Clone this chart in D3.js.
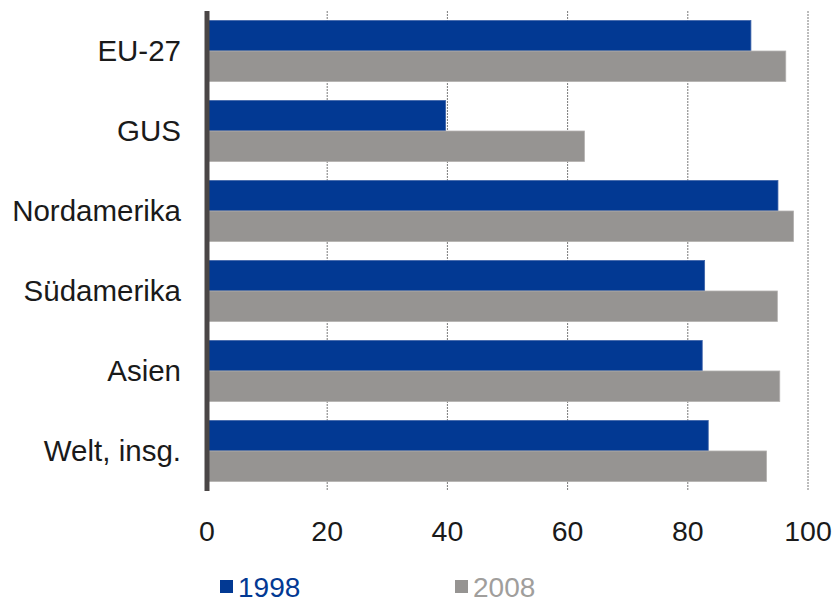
<!DOCTYPE html>
<html>
<head>
<meta charset="utf-8">
<script src="https://d3js.org/d3.v7.min.js"></script>
<style>
  body { margin: 0; background: #fff; }
  svg { display: block; font-family: "Liberation Sans", Arial, sans-serif; }
</style>
</head>
<body>
<div id="chart"></div>
<script>
// Regions and values (%)
const categories = ['EU-27', 'GUS', 'Nordamerika', 'Südamerika', 'Asien', 'Welt, insg.'];
const values1998 = [90.5, 39.7, 95.0, 82.8, 82.4, 83.4];
const values2008 = [96.3, 62.8, 97.6, 94.9, 95.3, 93.1];
const seriesNames = ['1998', '2008'];
const ticks = [0, 20, 40, 60, 80, 100];

const width = 835, height = 602;
const margin = { top: 11, right: 27, bottom: 112, left: 207 };
const colors = { '1998': '#023993', '2008': '#969492' };
const strokes = { '1998': '#3d63a8', '2008': '#b3b1af' };

const svg = d3.select('#chart').append('svg')
  .attr('width', width)
  .attr('height', height);

const x = d3.scaleLinear()
  .domain([0, 100])
  .range([margin.left, width - margin.right]);

const y = d3.scaleBand()
  .domain(categories)
  .range([margin.top, height - margin.bottom + 1])
  .paddingInner(0.2375)
  .paddingOuter(0.119);

const ySub = d3.scaleBand()
  .domain(seriesNames)
  .range([0, y.bandwidth()]);

const rows = categories.map((c, i) => ({ cat: c, '1998': values1998[i], '2008': values2008[i] }));

// Dotted gridlines
svg.append('g')
  .selectAll('line')
  .data(ticks.filter(t => t > 0))
  .join('line')
  .attr('x1', d => x(d)).attr('x2', d => x(d))
  .attr('y1', margin.top).attr('y2', height - margin.bottom + 1)
  .attr('stroke', '#7a7a7a')
  .attr('stroke-width', 1)
  .attr('stroke-dasharray', '2,1');

// Bars
const groups = svg.append('g')
  .selectAll('g')
  .data(rows)
  .join('g')
  .attr('transform', d => `translate(0,${y(d.cat)})`);

groups.selectAll('rect')
  .data(d => seriesNames.map(s => ({ key: s, value: d[s] })))
  .join('rect')
  .attr('x', x(0))
  .attr('y', d => ySub(d.key))
  .attr('width', d => x(d.value) - x(0))
  .attr('height', ySub.bandwidth())
  .attr('fill', d => colors[d.key])
  .attr('stroke', d => strokes[d.key])
  .attr('stroke-width', 0.8);

// Vertical axis line
svg.append('line')
  .attr('x1', x(0)).attr('x2', x(0))
  .attr('y1', margin.top).attr('y2', height - margin.bottom + 1)
  .attr('stroke', '#4a4646')
  .attr('stroke-width', 5);

// Category labels
svg.append('g')
  .selectAll('text')
  .data(categories)
  .join('text')
  .attr('x', 181)
  .attr('y', d => y(d) + y.bandwidth() / 2)
  .attr('dy', '0.35em')
  .attr('text-anchor', 'end')
  .attr('font-size', 29.5)
  .attr('fill', '#1a1a1a')
  .text(d => d);

// Tick labels
svg.append('g')
  .selectAll('text')
  .data(ticks)
  .join('text')
  .attr('x', d => x(d))
  .attr('y', 531)
  .attr('dy', '0.35em')
  .attr('text-anchor', 'middle')
  .attr('font-size', 28.5)
  .attr('fill', '#1a1a1a')
  .text(d => d);

// Legend
const legendX = [220, 455];
const legendColors = { '1998': '#023993', '2008': '#a09e9c' };
const legend = svg.append('g')
  .selectAll('g')
  .data(seriesNames)
  .join('g')
  .attr('transform', (d, i) => `translate(${legendX[i]},580)`);

legend.append('rect')
  .attr('width', 13).attr('height', 13)
  .attr('fill', d => colors[d]);

legend.append('text')
  .attr('x', 18)
  .attr('y', 17)
  .attr('font-size', 28)
  .attr('fill', d => legendColors[d])
  .text(d => d);
</script>
</body>
</html>
